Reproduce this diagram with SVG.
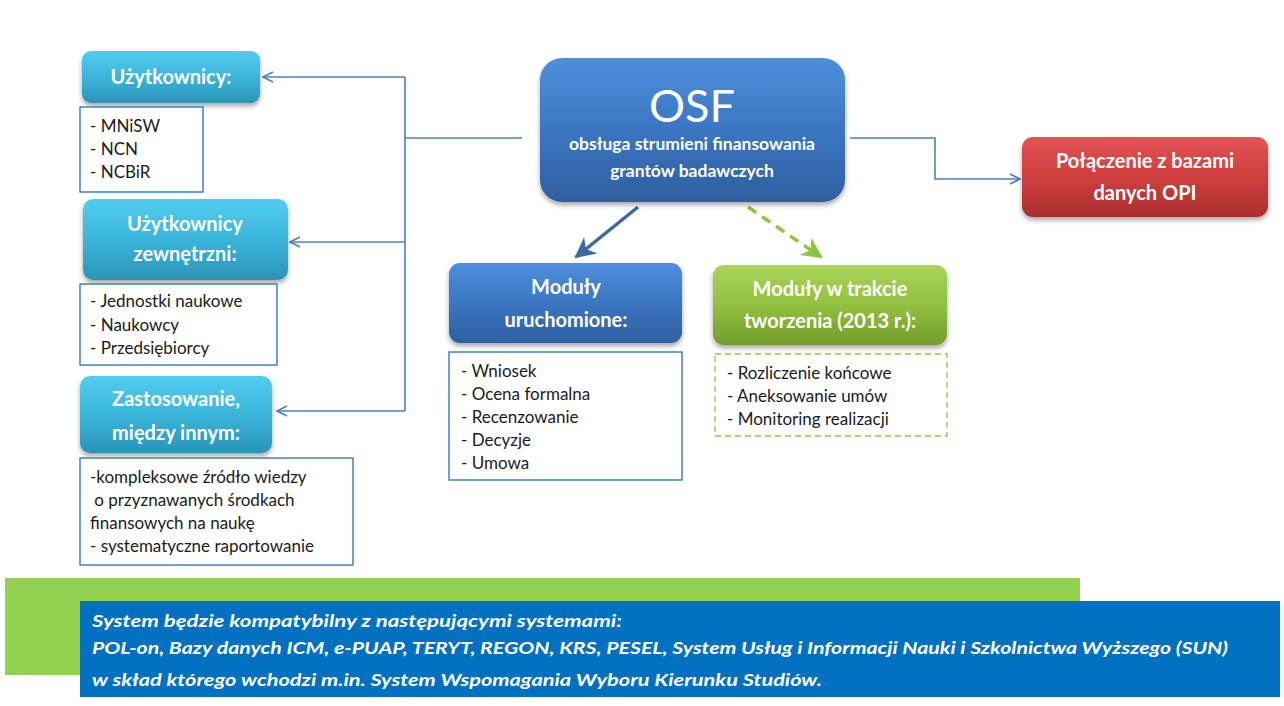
<svg xmlns="http://www.w3.org/2000/svg" width="1284" height="706" viewBox="0 0 1284 706">
<defs>
<style>
.t{font-family:Lato,"Liberation Sans",sans-serif;}
.hd{font-family:Lato,"Liberation Sans",sans-serif;font-weight:bold;fill:#ffffff;font-size:20px;text-anchor:middle;}
.sub{font-size:17.5px;}
.li{font-family:Lato,"Liberation Sans",sans-serif;font-size:17px;fill:#1a1a1a;}
.lb{fill:#ffffff;stroke:#1f6fbf;stroke-width:1.3;}
.conn{fill:none;stroke:#4f7fc0;stroke-width:1.6;}
.bt{font-family:Lato,"Liberation Sans",sans-serif;font-weight:bold;font-style:italic;fill:#ffffff;font-size:17px;}
</style>
<linearGradient id="gCyan" x1="0" y1="0" x2="0" y2="1">
<stop offset="0" stop-color="#52cdef"/><stop offset="0.5" stop-color="#3bb5da"/><stop offset="1" stop-color="#2a94b8"/>
</linearGradient>
<linearGradient id="gBlue" x1="0" y1="0" x2="0" y2="1">
<stop offset="0" stop-color="#4d8fdc"/><stop offset="0.5" stop-color="#3b76c2"/><stop offset="1" stop-color="#2f5f9f"/>
</linearGradient>
<linearGradient id="gGreen" x1="0" y1="0" x2="0" y2="1">
<stop offset="0" stop-color="#a9d45a"/><stop offset="0.5" stop-color="#92c03f"/><stop offset="1" stop-color="#739d2c"/>
</linearGradient>
<linearGradient id="gRed" x1="0" y1="0" x2="0" y2="1">
<stop offset="0" stop-color="#e35454"/><stop offset="0.5" stop-color="#cf3e3e"/><stop offset="1" stop-color="#ab2e2e"/>
</linearGradient>
<filter id="sh" x="-10%" y="-10%" width="120%" height="140%">
<feDropShadow dx="0" dy="3" stdDeviation="2.5" flood-color="#000" flood-opacity="0.35"/>
</filter>
<marker id="aOpen" viewBox="0 0 12 12" refX="11" refY="6" markerWidth="12" markerHeight="12" markerUnits="userSpaceOnUse" orient="auto">
<path d="M1,1 L11,6 L1,11" fill="none" stroke="#4f7fc0" stroke-width="1.6"/>
</marker>
<marker id="aBlue" viewBox="0 0 10 10" refX="9" refY="5" markerWidth="6" markerHeight="6" orient="auto">
<path d="M0,0 L10,5 L0,10 L3,5 Z" fill="#3d6aa0"/>
</marker>
<marker id="aGreen" viewBox="0 0 10 10" refX="9" refY="5" markerWidth="6" markerHeight="6" orient="auto">
<path d="M0,0 L10,5 L0,10 L3,5 Z" fill="#8dc63f"/>
</marker>
</defs>
<rect width="1284" height="706" fill="#ffffff"/>

<g id="connectors">
<path class="conn" d="M522,138 H405"/>
<path class="conn" d="M405,77 V411"/>
<path class="conn" d="M405,77 H263" marker-end="url(#aOpen)"/>
<path class="conn" d="M405,242 H290" marker-end="url(#aOpen)"/>
<path class="conn" d="M405,411 H277" marker-end="url(#aOpen)"/>
<path class="conn" d="M850,138 H935 V179 H1020" marker-end="url(#aOpen)"/>
<path d="M638,207 L576,257" fill="none" stroke="#3d6aa0" stroke-width="3.5" marker-end="url(#aBlue)"/>
<path d="M748,207 L821,257" fill="none" stroke="#8dc63f" stroke-width="3.5" stroke-dasharray="10,7" marker-end="url(#aGreen)"/>
</g>

<g id="osf">
<rect x="540" y="58" width="305" height="144" rx="22" fill="url(#gBlue)" filter="url(#sh)"/>
<text x="692" y="122" class="t" font-size="45" fill="#fff" text-anchor="middle">OSF</text>
<text x="692" y="150" class="hd sub">obsługa strumieni finansowania</text>
<text x="692" y="177" class="hd sub">grantów badawczych</text>
</g>

<g id="uzytkownicy">
<rect x="82" y="51" width="178" height="52" rx="9" fill="url(#gCyan)" filter="url(#sh)"/>
<text x="171" y="84" class="hd">Użytkownicy:</text>
</g>
<g id="uzytkownicy-list">
<rect x="80" y="107" width="123" height="85" class="lb"/>
<text class="li"><tspan x="90" y="132">- MNiSW</tspan><tspan x="90" y="155">- NCN</tspan><tspan x="90" y="178">- NCBiR</tspan></text>
</g>

<g id="zewnetrzni">
<rect x="83" y="199" width="205" height="81" rx="10" fill="url(#gCyan)" filter="url(#sh)"/>
<text x="185" y="231" class="hd">Użytkownicy</text>
<text x="185" y="261" class="hd">zewnętrzni:</text>
</g>
<g id="zewnetrzni-list">
<rect x="80" y="284" width="197" height="81" class="lb"/>
<text class="li"><tspan x="90" y="307">- Jednostki naukowe</tspan><tspan x="90" y="331">- Naukowcy</tspan><tspan x="90" y="354">- Przedsiębiorcy</tspan></text>
</g>

<g id="zastosowanie">
<rect x="80" y="376" width="192" height="77" rx="10" fill="url(#gCyan)" filter="url(#sh)"/>
<text x="176" y="406" class="hd">Zastosowanie,</text>
<text x="176" y="440" class="hd">między innym:</text>
</g>
<g id="zastosowanie-list">
<rect x="80" y="458" width="273" height="107" class="lb"/>
<text class="li"><tspan x="90" y="483">-kompleksowe źródło wiedzy</tspan><tspan x="90" y="506"> o przyznawanych środkach</tspan><tspan x="90" y="529">finansowych na naukę</tspan><tspan x="90" y="552">- systematyczne raportowanie</tspan></text>
</g>

<g id="uruchomione">
<rect x="449" y="263" width="233" height="80" rx="11" fill="url(#gBlue)" filter="url(#sh)"/>
<text x="566" y="294" class="hd">Moduły</text>
<text x="566" y="327" class="hd">uruchomione:</text>
</g>
<g id="uruchomione-list">
<rect x="449" y="352" width="233" height="128" class="lb"/>
<text class="li"><tspan x="461" y="377">- Wniosek</tspan><tspan x="461" y="400">- Ocena formalna</tspan><tspan x="461" y="423">- Recenzowanie</tspan><tspan x="461" y="446">- Decyzje</tspan><tspan x="461" y="469">- Umowa</tspan></text>
</g>

<g id="w-trakcie">
<rect x="713" y="265" width="234" height="80" rx="11" fill="url(#gGreen)" filter="url(#sh)"/>
<text x="830" y="296" class="hd">Moduły w trakcie</text>
<text x="830" y="328" class="hd">tworzenia (2013 r.):</text>
</g>
<g id="w-trakcie-list">
<rect x="715" y="354" width="232" height="82" fill="#fff" stroke="#8dc63f" stroke-width="1.3" stroke-dasharray="6,4"/>
<text class="li"><tspan x="727" y="379">- Rozliczenie końcowe</tspan><tspan x="727" y="402">- Aneksowanie umów</tspan><tspan x="727" y="425">- Monitoring realizacji</tspan></text>
</g>

<g id="polaczenie">
<rect x="1022" y="137" width="246" height="80" rx="11" fill="url(#gRed)" filter="url(#sh)"/>
<text x="1145" y="168" class="hd">Połączenie z bazami</text>
<text x="1145" y="200" class="hd">danych OPI</text>
</g>

<g id="bottom">
<rect x="5" y="578" width="1075" height="97" fill="#92d050"/>
<rect x="80" y="601" width="1200" height="96" fill="#0070c0"/>
<text x="92" y="627" class="bt" textLength="530" lengthAdjust="spacingAndGlyphs">System będzie kompatybilny z następującymi systemami:</text>
<text x="92" y="654" class="bt" textLength="1136" lengthAdjust="spacingAndGlyphs">POL-on, Bazy danych ICM, e-PUAP, TERYT, REGON, KRS, PESEL, System Usług i Informacji Nauki i Szkolnictwa Wyższego (SUN)</text>
<text x="92" y="686" class="bt" textLength="730" lengthAdjust="spacingAndGlyphs">w skład którego wchodzi m.in. System Wspomagania Wyboru Kierunku Studiów.</text>
</g>
</svg>
